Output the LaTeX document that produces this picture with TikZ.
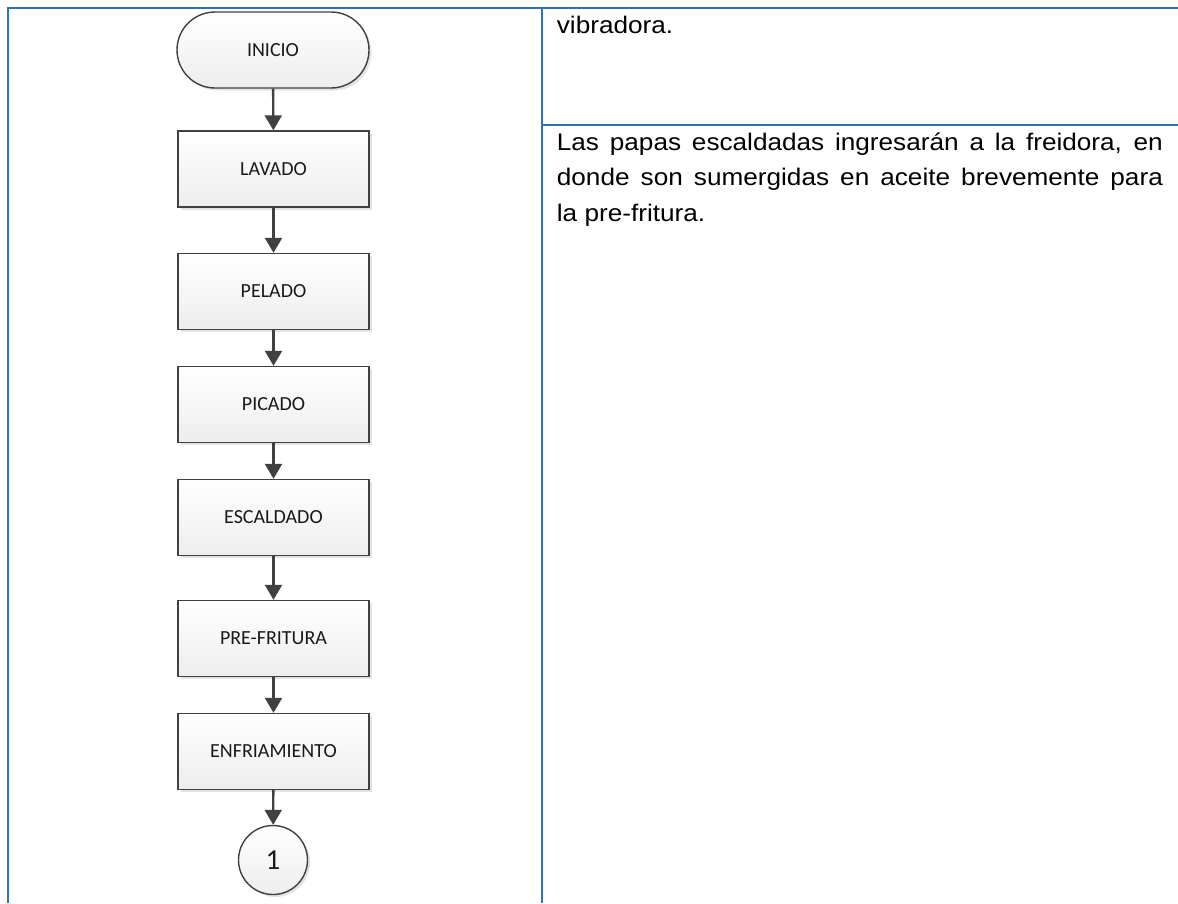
\documentclass[tikz,border=0pt]{standalone}
\usepackage{fontspec}
\setmainfont{Liberation Sans}
\newfontfamily\chartfont{Carlito}
\newfontfamily\bodyfont[FakeStretch=1.09]{Liberation Sans}
\usetikzlibrary{arrows.meta,shadows,positioning}

\definecolor{rule}{HTML}{2E74B5}
\definecolor{ink}{HTML}{404040}

\tikzset{
  x=1pt, y=-1pt,
  flowshape/.style={draw=ink, line width=1.4pt, top color=white, bottom color=black!7,
    drop shadow={opacity=0.22, shadow xshift=2.5pt, shadow yshift=-2.5pt},
    font=\chartfont\fontsize{20}{24}\selectfont, text=black!90},
  stepbox/.style={flowshape, rectangle, minimum width=191pt, minimum height=76pt},
  terminal/.style={flowshape, rectangle, rounded corners=38pt, minimum width=192pt, minimum height=76pt},
  connector/.style={flowshape, circle, minimum size=69pt, inner sep=0pt,
    font=\chartfont\fontsize{29}{32}\selectfont},
  flow/.style={draw=ink, line width=2.4pt, -{Triangle[length=15pt,width=17pt]}},
  tablerule/.style={draw=rule, line width=2.4pt},
  celltext/.style={font=\bodyfont\fontsize{24}{35.8}\selectfont, inner sep=0pt}
}

\begin{document}
\begin{tikzpicture}
  \useasboundingbox (0,0) rectangle (1178,903);

  % table rules
  \draw[tablerule] (8,903) -- (8,8) -- (1178,8);
  \draw[tablerule] (542,8) -- (542,903);
  \draw[tablerule] (542,125) -- (1178,125);

  % flow chart
  \node[terminal] (inicio) at (273,50) {INICIO};
  \node[stepbox] (lavado) at (273.5,169) {LAVADO};
  \node[stepbox] (pelado) at (273.5,291.5) {PELADO};
  \node[stepbox] (picado) at (273.5,404.5) {PICADO};
  \node[stepbox] (escaldado) at (273.5,517.5) {ESCALDADO};
  \node[stepbox] (prefritura) at (273.5,638.5) {PRE-FRITURA};
  \node[stepbox] (enfriamiento) at (273.5,751.5) {ENFRIAMIENTO};
  \node[connector] (uno) at (273,860) {1};

  \draw[flow] (inicio) -- (lavado);
  \draw[flow] (lavado) -- (pelado);
  \draw[flow] (pelado) -- (picado);
  \draw[flow] (picado) -- (escaldado);
  \draw[flow] (escaldado) -- (prefritura);
  \draw[flow] (prefritura) -- (enfriamiento);
  \draw[flow] (enfriamiento) -- (uno);

  % descriptions
  \node[celltext, anchor=base west] (desc1) at (556.7,33.3) {vibradora.};
  \node[celltext, anchor=base west, text width=606pt, align=justify] (desc2) at (556.7,150)
    {Las papas escaldadas ingresarán a la freidora, en\linebreak
     donde son sumergidas en aceite brevemente para\linebreak
     la pre-fritura.};
\end{tikzpicture}
\end{document}
